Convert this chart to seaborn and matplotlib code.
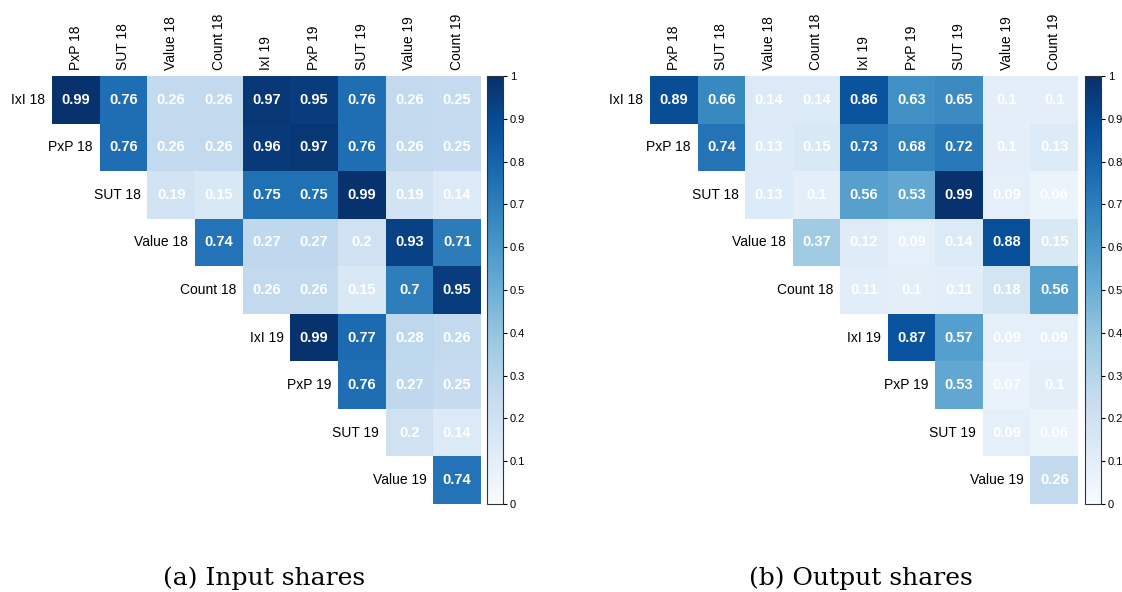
import numpy as np
import pandas as pd
import seaborn as sns
import matplotlib.pyplot as plt
from matplotlib.ticker import FuncFormatter

plt.rcParams['font.family'] = ['Liberation Sans', 'DejaVu Sans']

row_labels = ["IxI 18", "PxP 18", "SUT 18", "Value 18", "Count 18",
              "IxI 19", "PxP 19", "SUT 19", "Value 19"]
col_labels = ["PxP 18", "SUT 18", "Value 18", "Count 18", "IxI 19",
              "PxP 19", "SUT 19", "Value 19", "Count 19"]

# Upper-triangle rows (row i starts at column i)
input_rows = [
    [0.99, 0.76, 0.26, 0.26, 0.97, 0.95, 0.76, 0.26, 0.25],
    [0.76, 0.26, 0.26, 0.96, 0.97, 0.76, 0.26, 0.25],
    [0.19, 0.15, 0.75, 0.75, 0.99, 0.19, 0.14],
    [0.74, 0.27, 0.27, 0.2, 0.93, 0.71],
    [0.26, 0.26, 0.15, 0.7, 0.95],
    [0.99, 0.77, 0.28, 0.26],
    [0.76, 0.27, 0.25],
    [0.2, 0.14],
    [0.74],
]
output_rows = [
    [0.89, 0.66, 0.14, 0.14, 0.86, 0.63, 0.65, 0.1, 0.1],
    [0.74, 0.13, 0.15, 0.73, 0.68, 0.72, 0.1, 0.13],
    [0.13, 0.1, 0.56, 0.53, 0.99, 0.09, 0.06],
    [0.37, 0.12, 0.09, 0.14, 0.88, 0.15],
    [0.11, 0.1, 0.11, 0.18, 0.56],
    [0.87, 0.57, 0.09, 0.09],
    [0.53, 0.07, 0.1],
    [0.09, 0.06],
    [0.26],
]
captions = ["(a) Input shares", "(b) Output shares"]


def build(rows):
    n = len(row_labels)
    M = np.full((n, len(col_labels)), np.nan)
    for i, r in enumerate(rows):
        M[i, i:i + len(r)] = r
    return pd.DataFrame(M, index=row_labels, columns=col_labels)


W, H = 1122, 592
fig = plt.figure(figsize=(W / 100, H / 100), dpi=100)


def rect(x0, y0, x1, y1):
    return [x0 / W, 1 - y1 / H, (x1 - x0) / W, (y1 - y0) / H]


panels = [
    (build(input_rows), rect(52, 76, 481, 504), rect(487, 76, 503, 504), 264),
    (build(output_rows), rect(650, 76, 1078, 504), rect(1085, 76, 1101, 504), 861),
]

for (df, axr, caxr, cx), cap in zip(panels, captions):
    ax = fig.add_axes(axr)
    cax = fig.add_axes(caxr)
    sns.heatmap(df, ax=ax, cbar_ax=cax, cmap="Blues", vmin=0, vmax=1,
                mask=df.isna(), annot=True, fmt="g",
                annot_kws=dict(color="white", fontweight="bold", fontsize=10.5))
    ax.xaxis.tick_top()
    ax.set_xticks(np.arange(len(col_labels)) + 0.5)
    ax.set_xticklabels(col_labels, rotation=90, fontsize=10)
    ax.tick_params(axis="x", length=0, pad=4, top=True, bottom=False)
    ax.set_yticks([])
    ax.set_xlabel("")
    ax.set_ylabel("")
    for i, lab in enumerate(row_labels):
        ax.text(i - 0.14, i + 0.5, lab, ha="right", va="center", fontsize=10)
    cax.set_yticks(np.round(np.arange(0, 1.01, 0.1), 1))
    cax.yaxis.set_major_formatter(FuncFormatter(lambda v, p: f"{v:g}"))
    cax.tick_params(axis="y", labelsize=8, length=3, width=0.8, right=True,
                    direction="out", pad=2)
    cb = ax.collections[0].colorbar
    cb.outline.set_visible(True)
    cb.outline.set_linewidth(0.8)
    cb.outline.set_edgecolor("#333333")
    fig.text(cx / W, 1 - 578 / H, cap, ha="center", va="center",
             family=["DejaVu Serif"], fontsize=18)

fig.savefig("out.png", dpi=100)
